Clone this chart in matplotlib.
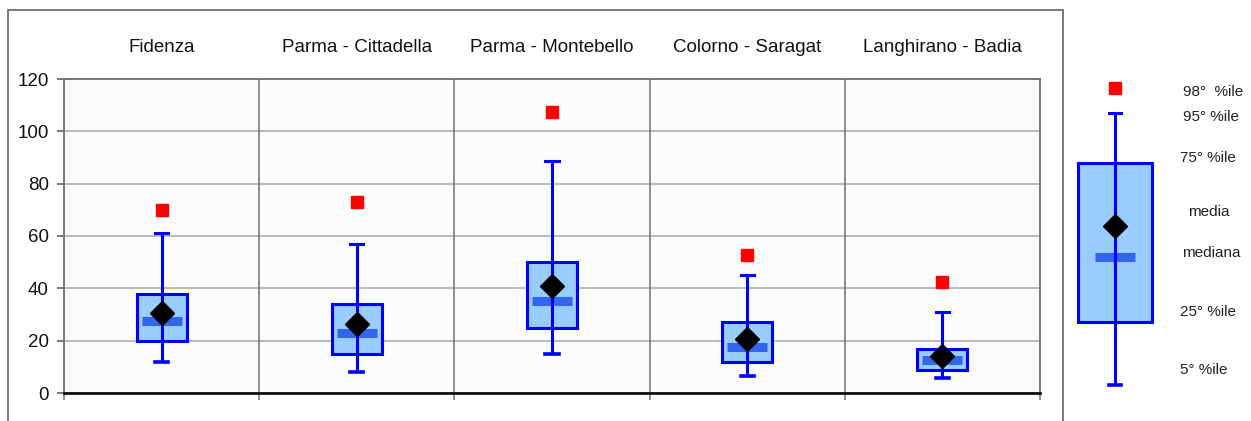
import numpy as np
import matplotlib
matplotlib.use('Agg')
import matplotlib.pyplot as plt
from matplotlib.patches import Rectangle
from matplotlib.transforms import blended_transform_factory

plt.rcParams['font.family'] = ['Liberation Sans', 'DejaVu Sans']

# stazioni e percentili
stazioni = ['Fidenza', 'Parma - Cittadella', 'Parma - Montebello',
            'Colorno - Saragat', 'Langhirano - Badia']
p05 = [12, 8, 15, 6.6, 5.8]
p25 = [20, 15, 24.8, 11.8, 8.8]
mediana = [27.6, 23, 35, 17.7, 12.6]
media = [30.5, 26.4, 41, 20.6, 14.1]
p75 = [38, 34, 50, 27, 16.8]
p95 = [61, 57, 88.8, 45, 31]
p98 = [70, 73, 107.5, 52.8, 42.5]

# box di esempio per la legenda
leg_p05, leg_p25, leg_mediana, leg_media = 3, 27, 52, 64
leg_p75, leg_p95, leg_p98 = 88, 107, 116.5
leg_testi = ['98°  %ile', '95° %ile', '75° %ile', 'media', 'mediana',
             '25° %ile', '5° %ile']
leg_testi_y = [115, 105.5, 90, 69, 53.5, 31, 8.8]

W, H = 1251, 421
fig = plt.figure(figsize=(W / 100, H / 100), dpi=100)

BLU = '#0000FF'
AZZURRO = '#99CCFF'
BLU_MED = '#3366EE'


def disegna_box(ax, x, q05, q25, q50, qm, q75, q95, q98, bw, mw, cw):
    ax.plot([x - cw / 2, x + cw / 2], [q05, q05], color=BLU, lw=2.6, zorder=3)
    ax.plot([x - cw / 2, x + cw / 2], [q95, q95], color=BLU, lw=2.2, zorder=3)
    ax.add_patch(Rectangle((x - bw / 2, q25), bw, q75 - q25, facecolor=AZZURRO,
                           edgecolor=BLU, lw=2.2, zorder=2))
    ax.plot([x - mw / 2, x + mw / 2], [q50, q50], color=BLU_MED, lw=6.5,
            solid_capstyle='butt', zorder=3.5)
    ax.plot([x, x], [q05, q95], color=BLU, lw=2.2, zorder=3.6, solid_capstyle='butt')
    ax.plot(x, qm, marker='D', ms=12, color='black', zorder=5)
    ax.plot(x, q98, marker='s', ms=8.8, color='#FF0000', mec='#FF0000', zorder=5)


# cornice esterna
fig.patches.append(Rectangle((8 / W, -0.1), (1063 - 8) / W, 1.1 - 10 / H,
                             transform=fig.transFigure, fill=False,
                             edgecolor='#6E6E6E', lw=1.3))

ax = fig.add_axes([64 / W, 1 - 393 / H, (1040 - 64) / W, (393 - 79) / H])
ax.set_facecolor('#FBFBFB')
ax.set_xlim(-0.5, len(stazioni) - 0.5)
ax.set_ylim(0, 120)

for i in range(len(stazioni)):
    disegna_box(ax, i, p05[i], p25[i], mediana[i], media[i], p75[i], p95[i], p98[i],
                bw=0.256, mw=0.205, cw=0.067)

ax.set_yticks(np.arange(0, 121, 20))
ax.yaxis.grid(True, color='#A8A8A8', lw=1.1)
ax.set_axisbelow(True)
for xs in np.arange(0.5, len(stazioni) - 0.5, 1):
    ax.axvline(xs, color='#707070', lw=1.1, zorder=1)

ax.set_xticks(range(len(stazioni)))
ax.set_xticklabels(stazioni, fontsize=13.5, color='#111111')
ax.set_xticks(np.arange(-0.5, len(stazioni), 1), minor=True)
ax.tick_params(axis='x', which='major', bottom=False, labelbottom=False,
               top=False, labeltop=True, pad=13)
ax.tick_params(axis='x', which='minor', bottom=True, length=5, width=1.1,
               color='#707070', direction='out')
ax.tick_params(axis='y', length=5, width=1.1, color='#555555', labelsize=13.5,
               pad=6, labelcolor='#111111')

for s in ['top', 'left', 'right']:
    ax.spines[s].set_color('#707070')
    ax.spines[s].set_linewidth(1.3)
ax.spines['bottom'].set_color('#111111')
ax.spines['bottom'].set_linewidth(2)

# legenda a destra
ax_leg = fig.add_axes([1066 / W, 1 - 393 / H, 98 / W, (393 - 79) / H])
ax_leg.set_xlim(-0.5, 0.5)
ax_leg.set_ylim(0, 120)
ax_leg.axis('off')
disegna_box(ax_leg, 0, leg_p05, leg_p25, leg_mediana, leg_media, leg_p75, leg_p95,
            leg_p98, bw=0.755, mw=0.41, cw=0.12)

tr = blended_transform_factory(fig.transFigure, ax_leg.transData)
leg_x = [1183, 1183, 1180, 1188, 1182, 1180, 1180]
for t, y, xp in zip(leg_testi, leg_testi_y, leg_x):
    ax_leg.text(xp / W, y, t, transform=tr, fontsize=11, color='#222222',
                va='center', ha='left', clip_on=False)

fig.savefig('out.png', dpi=100, facecolor='white')
